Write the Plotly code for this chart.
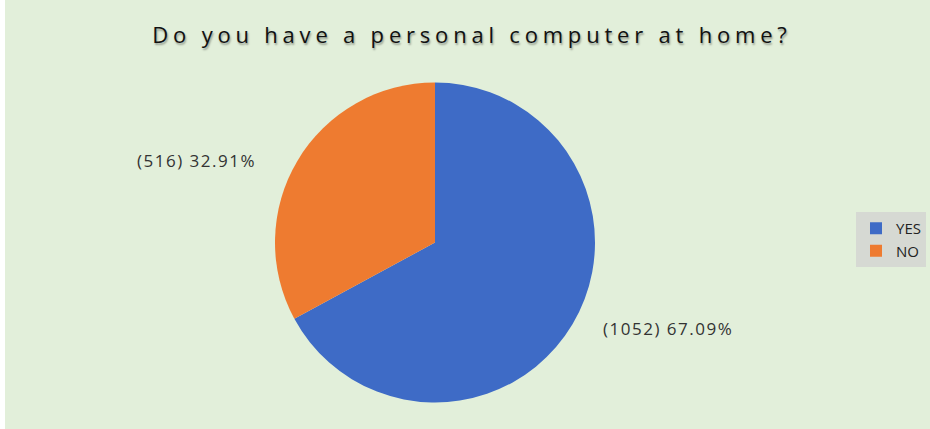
import plotly.graph_objects as go

categories = ["YES", "NO"]
counts = [1052, 516]
colors = ["#3E6BC6", "#EE7B30"]
title_text = "Do you have a personal computer at home?"

total = sum(counts)
label_texts = [f"({c}) {c / total * 100:.2f}%" for c in counts]

W, H = 930, 429
cx, cy, r = 435, 242.5, 160

fig = go.Figure()
fig.add_trace(go.Pie(
    labels=categories,
    values=counts,
    sort=False,
    direction="clockwise",
    rotation=0,
    textinfo="none",
    hoverinfo="label+value+percent",
    marker=dict(colors=colors, line=dict(width=0)),
    domain=dict(x=[(cx - r) / W, (cx + r) / W], y=[(H - cy - r) / H, (H - cy + r) / H]),
))

# data labels
label_pos = [(668, 328), (196, 160)]
for txt, (lx, ly) in zip(label_texts, label_pos):
    fig.add_annotation(
        x=lx / W, y=1 - ly / H, xref="paper", yref="paper",
        text=f"<span style='letter-spacing:1.5px'>{txt}</span>", showarrow=False,
        font=dict(family="Open Sans", size=17, color="#333333"),
        xanchor="center", yanchor="middle",
    )

fig.update_layout(
    width=W, height=H,
    margin=dict(l=0, r=0, t=0, b=0),
    paper_bgcolor="white",
    title=dict(
        text=f"<span style='letter-spacing:4.8px'>{title_text}</span>",
        x=472 / W, xanchor="center",
        y=1 - 35 / H, yanchor="middle",
        font=dict(family="Open Sans", size=22, color="#111111",
                  shadow="1px 2px 2px rgba(0,0,0,0.35)"),
    ),
    legend=dict(
        x=856 / W, xanchor="left",
        y=1 - 212 / H, yanchor="top",
        bgcolor="#D6D9D3",
        font=dict(family="Open Sans", size=15, color="#222222"),
        itemsizing="constant",
        itemwidth=30,
    ),
    shapes=[dict(
        type="rect", xref="paper", yref="paper",
        x0=5 / W, x1=1, y0=0, y1=1,
        fillcolor="#E2EFDA", line=dict(width=0), layer="below",
    )],
)

fig.write_html("out.html")
